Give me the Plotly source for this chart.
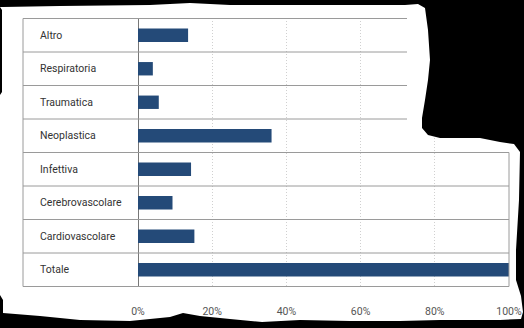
import plotly.graph_objects as go

# ---- data ----
categories = ["Altro", "Respiratoria", "Traumatica", "Neoplastica",
              "Infettiva", "Cerebrovascolare", "Cardiovascolare", "Totale"]
values = [13.5, 4.0, 5.6, 36.0, 14.3, 9.3, 15.2, 100.0]
tick_values = [0, 20, 40, 60, 80, 100]
tick_labels = ["0%", "20%", "40%", "60%", "80%", "100%"]

W, H = 524, 328
L, R, T, B = 138, 15, 18, 41
PW, PH = W - L - R, H - T - B


def px(x):
    return (x - L) / PW


def py(y):
    return 1 - (y - T) / PH


BAR = "#244a78"
LINE = "#9a9a9a"

fig = go.Figure(go.Bar(
    x=values, y=categories, orientation="h",
    marker=dict(color=BAR, line=dict(width=0)),
    hoverinfo="skip",
))

shapes = []
n = len(categories)
# row separators of the table
for i in range(n + 1):
    yb = i - 0.5
    x_end = px(407) if i <= 3 else 1.0
    shapes.append(dict(type="line", xref="paper", yref="y",
                       x0=px(23), x1=x_end, y0=yb, y1=yb,
                       line=dict(color=LINE, width=1), layer="above"))
# left border
shapes.append(dict(type="line", xref="paper", yref="y",
                   x0=px(23), x1=px(23), y0=-0.5, y1=n - 0.5,
                   line=dict(color=LINE, width=1), layer="above"))
# right border (lower block)
shapes.append(dict(type="line", xref="paper", yref="y",
                   x0=1.0, x1=1.0, y0=3.5, y1=n - 0.5,
                   line=dict(color=LINE, width=1), layer="above"))

# torn-paper frame: black overlay with a hole
outline = [(0, 7), (3, 7), (60, 6), (150, 5), (190, 3), (230, 5), (300, 5),
           (405, 5), (418, 4), (425, 8), (428, 30), (430, 60), (428, 80),
           (425, 100), (422, 118), (422, 128), (428, 135), (440, 138),
           (480, 138), (500, 142), (514, 144), (520, 152), (519, 200),
           (516, 250), (516, 280), (521, 296), (523, 312), (521, 319),
           (500, 320),
           (440, 320), (400, 321), (350, 321), (300, 320), (262, 322),
           (230, 319), (200, 316), (183, 313), (170, 317), (130, 321),
           (80, 320), (40, 316), (3, 313), (3, 300), (0, 295), (0, 95),
           (2, 92), (2, 10)]
outer = [(-5, -5), (530, -5), (530, 335), (-5, 335)]
path = "M " + " L ".join(f"{px(x):.5f},{py(y):.5f}" for x, y in outer) + " Z "
inner = list(reversed(outline))
path += "M " + " L ".join(f"{px(x):.5f},{py(y):.5f}" for x, y in inner) + " Z"
shapes.append(dict(type="path", xref="paper", yref="paper", path=path,
                   fillcolor="black", line=dict(width=0), layer="above"))

annotations = [dict(x=px(38), xref="paper", y=c, yref="y", text=c,
                    showarrow=False, xanchor="left", yanchor="middle",
                    font=dict(family="Roboto", size=10.5, color="#333333"))
               for c in categories]

fig.update_layout(
    template="none",
    width=W, height=H,
    margin=dict(l=L, r=R, t=T, b=B, pad=0, autoexpand=False),
    paper_bgcolor="white", plot_bgcolor="white",
    showlegend=False, bargap=0.6,
    shapes=shapes, annotations=annotations,
    xaxis=dict(range=[0, 100], tickvals=tick_values, ticktext=tick_labels,
               showgrid=True, gridcolor="#d0d0d0", griddash="1px,2px", gridwidth=1,
               zeroline=True, zerolinecolor="#777777", zerolinewidth=1,
               showline=False, ticks="", ticklabelstandoff=16,
               automargin=False,
               tickfont=dict(family="Roboto", size=10.5, color="#555555"),
               fixedrange=True),
    yaxis=dict(categoryorder="array", categoryarray=categories,
               autorange="reversed", showticklabels=False, showgrid=False,
               zeroline=False, showline=False, ticks="", automargin=False,
               fixedrange=True),
)

fig.write_html("out.html")
